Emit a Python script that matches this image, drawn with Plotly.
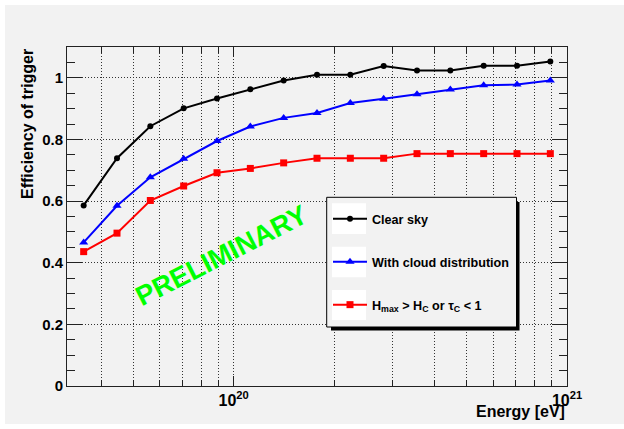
import plotly.graph_objects as go

# ---- data ----
log_energy = [19.55, 19.65, 19.75, 19.85, 19.95, 20.05, 20.15, 20.25,
              20.35, 20.45, 20.55, 20.65, 20.75, 20.85, 20.95]
clear_sky = [0.586, 0.739, 0.843, 0.901, 0.933, 0.963, 0.991, 1.010,
             1.010, 1.038, 1.024, 1.024, 1.039, 1.039, 1.053]
cloud_dist = [0.466, 0.585, 0.677, 0.737, 0.795, 0.842, 0.870, 0.886,
              0.918, 0.932, 0.947, 0.962, 0.976, 0.978, 0.991]
hmax_cut = [0.436, 0.496, 0.602, 0.649, 0.692, 0.706, 0.724, 0.739,
            0.739, 0.739, 0.754, 0.754, 0.754, 0.754, 0.754]

series_names = ["Clear sky", "With cloud distribution",
                "H<sub>max</sub> &gt; H<sub>C</sub> or \u03c4<sub>C</sub> &lt; 1"]
x_major_ticks = [1e20, 1e21]
x_major_text = ["10<sup>20</sup>", "10<sup>21</sup>"]
x_minor_ticks = [4e19, 5e19, 6e19, 7e19, 8e19, 9e19,
                 2e20, 3e20, 4e20, 5e20, 6e20, 7e20, 8e20, 9e20]

energy = [10 ** v for v in log_energy]

BG = "#f2f2f2"
FONT = "Liberation Sans"

# plot-area pixel geometry (for layout placement only)
L, R, T, B = 67, 567, 47, 386
W, H = R - L, B - T


def px(x):
    return (x - L) / W


def py(y):
    return (B - y) / H


fig = go.Figure()
styles = [
    dict(color="black", symbol="circle", size=6),
    dict(color="#0000ff", symbol="triangle-up", size=8),
    dict(color="#ff0000", symbol="square", size=7),
]
for i, (name, vals, st) in enumerate(zip(series_names,
                                          [clear_sky, cloud_dist, hmax_cut],
                                          styles)):
    fig.add_trace(go.Scatter(
        x=energy, y=vals, name=name, mode="lines+markers",
        line=dict(color=st["color"], width=2),
        marker=dict(color=st["color"], symbol=st["symbol"], size=st["size"]),
        legendgroup=f"g{i}",
    ))

grid_dash = "1px,2px"
grid_col = "#333333"

fig.update_layout(
    width=624, height=429,
    margin=dict(l=L, r=624 - R, t=T, b=429 - B, pad=0),
    paper_bgcolor="white",
    plot_bgcolor=BG,
    font=dict(family=FONT, size=15, color="black", weight="bold"),
    showlegend=True,
    legend=dict(
        x=px(328), y=py(204), xanchor="left", yanchor="top",
        bgcolor="rgba(0,0,0,0)", borderwidth=0,
        font=dict(family=FONT, size=12.6, color="black", weight="bold"),
        tracegroupgap=23.6, itemwidth=34,
    ),
    xaxis=dict(
        type="log", range=[19.5, 21.0], showline=True, linecolor="#222",
        linewidth=1, mirror="allticks", ticks="inside", ticklen=10,
        tickcolor="#222", tickmode="array", tickvals=x_major_ticks,
        ticktext=x_major_text, tickfont=dict(size=16, weight="bold"),
        showgrid=True, griddash=grid_dash, gridcolor=grid_col, gridwidth=1,
        zeroline=False,
        minor=dict(tickmode="array", tickvals=x_minor_ticks, ticks="inside",
                   ticklen=6, tickcolor="#222", showgrid=True,
                   griddash=grid_dash, gridcolor=grid_col, gridwidth=1),
    ),
    yaxis=dict(
        range=[0, 1.1], showline=True, linecolor="#222", linewidth=1,
        mirror="allticks", ticks="inside", ticklen=15, tickcolor="#222",
        tick0=0, dtick=0.2, tickfont=dict(size=15, weight="bold"),
        showgrid=True, griddash=grid_dash, gridcolor=grid_col, gridwidth=1,
        zeroline=False,
        minor=dict(dtick=0.05, ticks="inside", ticklen=8, tickcolor="#222",
                   showgrid=False),
    ),
)

shapes = [
    # canvas background with thin white border at top/left/bottom
    dict(type="rect", xref="paper", yref="paper", x0=px(5), x1=px(624),
         y0=py(424), y1=py(5), fillcolor=BG, line=dict(width=0), layer="below"),
    # legend shadow
    dict(type="rect", xref="paper", yref="paper", x0=px(331), x1=px(519.5),
         y0=py(330.5), y1=py(202), fillcolor="black", line=dict(width=0),
         layer="above"),
    # legend box
    dict(type="rect", xref="paper", yref="paper", x0=px(326.7), x1=px(516.5),
         y0=py(327), y1=py(197.3), fillcolor=BG,
         line=dict(color="black", width=1), layer="above"),
]
for y0, y1 in [(203.3, 234), (246.7, 277.3), (290, 320)]:
    shapes.append(dict(type="rect", xref="paper", yref="paper", x0=px(332),
                       x1=px(366), y0=py(y1), y1=py(y0), fillcolor="white",
                       line=dict(width=0), layer="above"))
fig.update_layout(shapes=shapes)

fig.add_annotation(
    text="Efficiency of trigger", xref="paper", yref="paper",
    x=px(27), y=py(47), xanchor="center", yanchor="top", textangle=-90,
    showarrow=False, font=dict(family=FONT, size=16, weight="bold"))
fig.add_annotation(
    text="Energy [eV]", xref="paper", yref="paper",
    x=px(567), y=py(422), xanchor="right", yanchor="bottom",
    showarrow=False, font=dict(family=FONT, size=16, weight="bold"))
fig.add_annotation(
    text="PRELIMINARY", xref="paper", yref="paper",
    x=px(221), y=py(255), xanchor="center", yanchor="middle", textangle=-27,
    showarrow=False,
    font=dict(family=FONT, size=27.5, weight="bold", color="#00ff00"))

fig.write_html(
    "out.html",
    config={"displayModeBar": False},
    post_script="document.body.style.margin='0';document.body.style.padding='0';",
)
